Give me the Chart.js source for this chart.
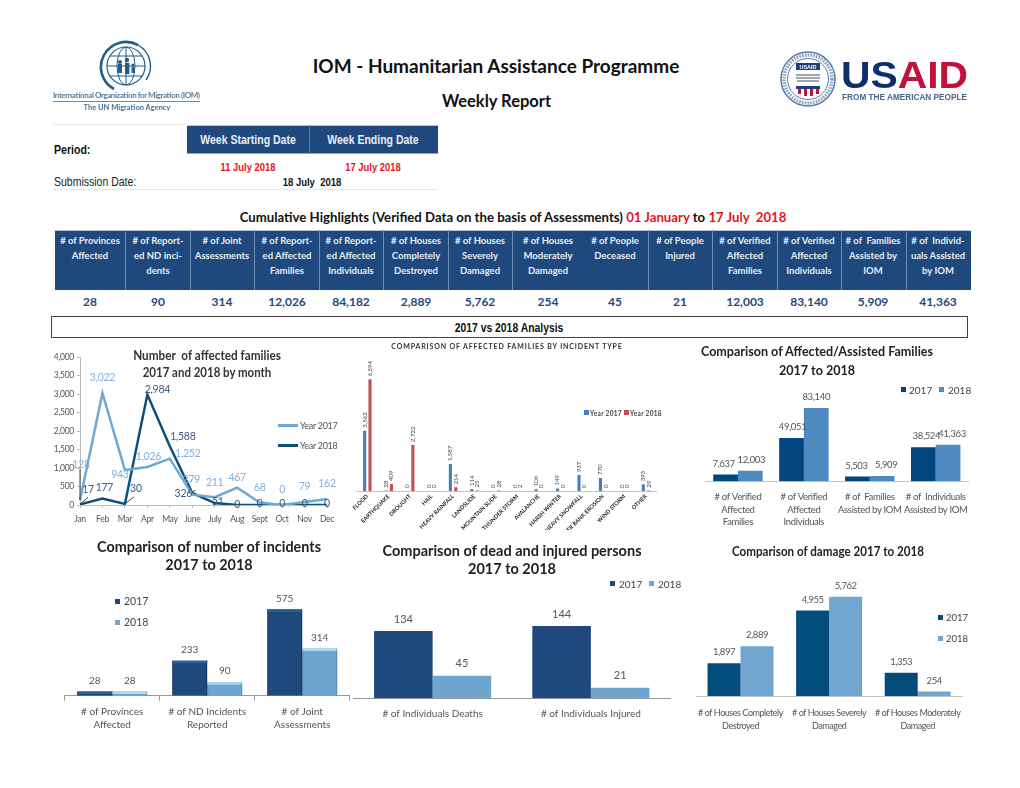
<!DOCTYPE html>
<html>
<head>
<meta charset="utf-8">
<title>IOM - Humanitarian Assistance Programme</title>
<script src="https://cdn.jsdelivr.net/npm/chart.js@4"></script>
<style>
  html, body { margin: 0; padding: 0; background: #fff; }
  #page { position: relative; width: 1020px; height: 788px; overflow: hidden; font-family: Lato, sans-serif; }
  #page canvas { position: absolute; filter: blur(0.5px); }
  #page svg { position: absolute; filter: blur(0.3px); }
  .t { position: absolute; white-space: pre; transform: translate(-50%, -50%); line-height: 1; }
  .l { transform: translate(0, -50%); }
  .box { position: absolute; box-sizing: border-box; }
  .red { color: #e8141c; }
</style>
</head>
<body>
<div id="page">
  <svg style="left:50px;top:40px" width="155" height="76" viewBox="50 40 155 76">
    <g fill="none" stroke="#1f5f8b">
      <path d="M114 89 A24 24 0 1 1 138 45" stroke-width="2.6"/>
      <path d="M138 45 A24 24 0 0 1 146 80" stroke-width="1.4"/>
      <circle cx="126" cy="66" r="19" stroke-width="1.2"/>
      <ellipse cx="126" cy="66" rx="9" ry="19" stroke-width="1"/>
      <path d="M107 66 H145 M110 56 H142 M110 76 H142 M126 47 V85" stroke-width="1"/>
    </g>
    <g fill="#1f5f8b">
      <circle cx="120" cy="62" r="2"/><rect x="118" y="64" width="4" height="9"/>
      <circle cx="127" cy="60" r="2.2"/><rect x="125" y="63" width="4.4" height="11"/>
      <circle cx="133" cy="65" r="1.6"/><rect x="131.5" y="67" width="3" height="6"/>
    </g>
    <text x="53" y="98" font-family="Lato" font-size="8" fill="#5a7f9c" textLength="147" font-weight="700">International Organization for Migration (IOM)</text>
    <rect x="53" y="101" width="147" height="1" fill="#5f8fb5"/>
    <text x="127" y="110" font-family="Lato" font-size="7.5" fill="#4b6f8d" text-anchor="middle" font-weight="700">The UN Migration Agency</text>
  </svg>
  <svg style="left:775px;top:45px" width="200" height="65" viewBox="775 45 200 65">
    <circle cx="808" cy="79" r="27" fill="#fff" stroke="#5d7ca3" stroke-width="1.5"/>
    <circle cx="808" cy="79" r="20.5" fill="#fff" stroke="#5d7ca3" stroke-width="1"/>
    <circle cx="808" cy="79" r="24" fill="none" stroke="#8aa2bf" stroke-width="3.5" stroke-dasharray="1.6 1.2"/>
    <rect x="796" y="63" width="24" height="7" fill="#1f3f78"/>
    <text x="808" y="69" font-family="Liberation Sans" font-weight="700" font-size="5.5" fill="#fff" text-anchor="middle">USAID</text>
    <path d="M796 78 h24 M797 81 h22 M796 75 h24" stroke="#7f8a96" stroke-width="1.6"/>
    <rect x="796" y="86" width="24" height="3" fill="#1f3f78"/>
    <path d="M798 89 h3 v5 h-3z M804 89 h3 v7 h-3z M810 89 h3 v7 h-3z M816 89 h3 v5 h-3z" fill="#c2113a"/>
    <text x="841" y="87.5" font-family="Liberation Sans" font-weight="700" font-size="37" textLength="127" lengthAdjust="spacingAndGlyphs"><tspan fill="#0f2f6b">US</tspan><tspan fill="#c2113a">AID</tspan></text>
    <text x="842" y="99.5" font-family="Liberation Sans" font-weight="700" font-size="9.5" fill="#48668c" textLength="125" lengthAdjust="spacingAndGlyphs">FROM THE AMERICAN PEOPLE</text>
  </svg>
  <canvas id="monthly" style="left:20px;top:340px" width="340" height="190"></canvas>
  <canvas id="incidentType" style="left:350px;top:340px" width="330" height="190"></canvas>
  <canvas id="assisted" style="left:680px;top:340px" width="300" height="190"></canvas>
  <canvas id="incidents" style="left:60px;top:530px" width="300" height="210"></canvas>
  <canvas id="casualties" style="left:350px;top:530px" width="330" height="210"></canvas>
  <canvas id="damage" style="left:680px;top:530px" width="300" height="210"></canvas>
</div>
<script>
// top table
const tableHeads = [
  ['# of Provinces', 'Affected'], ['# of Report-', 'ed ND inci-', 'dents'], ['# of Joint', 'Assessments'],
  ['# of Report-', 'ed Affected', 'Families'], ['# of Report-', 'ed Affected', 'Individuals'],
  ['# of Houses', 'Completely', 'Destroyed'], ['# of Houses', 'Severely', 'Damaged'],
  ['# of Houses', 'Moderately', 'Damaged'], ['# of People', 'Deceased'], ['# of People', 'Injured'],
  ['# of Verified', 'Affected', 'Families'], ['# of Verified', 'Affected', 'Individuals'],
  ['# of  Families', 'Assisted by', 'IOM'], ['# of  Individ-', 'uals Assisted', 'by IOM']
];
const tableValues = ['28', '90', '314', '12,026', '84,182', '2,889', '5,762', '254', '45', '21', '12,003', '83,140', '5,909', '41,363'];
const tableCentres = [90, 158, 222, 287, 351, 416, 480, 548, 615, 680, 745, 809, 873, 938];
const tableDividers = [125, 190, 254, 319, 383, 448, 512, 648, 712, 777, 841, 906];

// line chart
const months = ['Jan', 'Feb', 'Mar', 'Apr', 'May', 'June', 'July', 'Aug', 'Sept', 'Oct', 'Nov', 'Dec'];
const families2017 = [128, 3022, 943, 1026, 1252, 279, 211, 467, 68, 0, 79, 162];
const families2018 = [17, 177, 30, 2984, 1588, 326, 51, 0, 0, 0, 0, 0];

// incident type chart
const incidentTypes = ['FLOOD', 'EARTHQUAKE', 'DROUGHT', 'HAIL', 'HEAVY RAINFALL', 'LANDSLIDE', 'MOUNTAIN SLIDE',
  'THUNDER STORM', 'AVALANCHE', 'HARSH WINTER', 'HEAVY SNOWFALL', 'RIVER BANK EROSION', 'WIND STORM', 'OTHER'];
const type2017 = [3562, 28, 0, 0, 1587, 114, 0, 0, 106, 149, 937, 770, 0, 393];
const type2018 = [6594, 409, 2722, 0, 214, 25, 28, 2, 0, 0, 0, 0, 0, 29];

// affected / assisted
const assistedLabels = [['# of Verified', 'Affected', 'Families'], ['# of Verified', 'Affected', 'Individuals'],
  ['# of  Families', 'Assisted by IOM'], ['# of  Individuals', 'Assisted by IOM']];
const assisted2017 = [7637, 49051, 5503, 38524];
const assisted2018 = [12003, 83140, 5909, 41363];

// incidents
const incidentLabels = [['# of Provinces', 'Affected'], ['# of ND Incidents', 'Reported'], ['# of Joint', 'Assessments']];
const incidents2017 = [28, 233, 575];
const incidents2018 = [28, 90, 314];

// deaths and injured
const casualtyLabels = ['# of Individuals Deaths', '# of Individuals Injured'];
const casualties2017 = [134, 144];
const casualties2018 = [45, 21];

// damage
const damageLabels = [['# of Houses Completely', 'Destroyed'], ['# of Houses Severely', 'Damaged'], ['# of Houses Moderately', 'Damaged']];
const damage2017 = [1897, 4955, 1353];
const damage2018 = [2889, 5762, 254];

const page = document.getElementById('page');
const SANS = 'Lato, sans-serif';
const ARIAL = '"Liberation Sans", Arial, sans-serif';

function put(text, x, y, css, left) {
  const el = document.createElement('div');
  el.className = left ? 't l' : 't';
  el.style.cssText = 'left:' + x + 'px;top:' + y + 'px;' + css;
  el.textContent = text;
  page.appendChild(el);
  return el;
}
function box(x, y, w, h, css) {
  const el = document.createElement('div');
  el.className = 'box';
  el.style.cssText = 'left:' + x + 'px;top:' + y + 'px;width:' + w + 'px;height:' + h + 'px;' + css;
  page.appendChild(el);
}
function swatch(x, y, color) { box(x, y - 2.5, 5, 5, 'background:' + color); }
// no narrow font is installed, so squeeze the text sideways
const sx = k => 'transform:translate(-50%,-50%) scaleX(' + k + ');';
const sxl = k => 'transform-origin:0 50%;transform:translate(0,-50%) scaleX(' + k + ');';

// header
put('IOM - Humanitarian Assistance Programme', 496, 65, 'font:700 19px ' + SANS + ';color:#111');
put('Weekly Report', 496.5, 101, 'font:700 16.5px ' + SANS + ';color:#111');

box(53, 124, 134, 1, 'background:#f1e9dc');
box(187, 125, 251, 29, 'background:#1f497d;border-top:1px solid #b9c4cf;border-bottom:1px solid #8fa3bb');
box(309, 125, 1, 29, 'background:#5f81a8');
put('Week Starting Date', 248, 140, 'font:700 12.5px ' + ARIAL + ';color:#e8eef5;' + sx(.84));
put('Week Ending Date', 373, 140, 'font:700 12.5px ' + ARIAL + ';color:#e8eef5;' + sx(.84));
put('Period:', 54, 149.5, 'font:700 12px ' + ARIAL + ';color:#111;' + sxl(.88), true);
put('11 July 2018', 248, 167, 'font:700 11.5px ' + ARIAL + ';color:#e8141c;' + sx(.82));
put('17 July 2018', 373, 167, 'font:700 11.5px ' + ARIAL + ';color:#e8141c;' + sx(.82));
put('Submission Date:', 54, 182, 'font:400 12.5px ' + ARIAL + ';color:#222;' + sxl(.84), true);
put('18 July  2018', 312, 182, 'font:700 10.5px ' + ARIAL + ';color:#111;' + sx(.9));
box(53, 189, 385, 1, 'background:#ece6d8');

const cumulative = put('', 513, 217, 'font:700 13.2px ' + SANS + ';color:#111');
cumulative.innerHTML = 'Cumulative Highlights (Verified Data on the basis of Assessments) <span class="red">01 January</span> to <span class="red">17 July  2018</span>';

// highlights table, built from the arrays
box(55, 230, 916, 60, 'background:#1f497d;border-top:1px solid #b5c5d6');
tableDividers.forEach(x => box(x, 230, 1, 60, 'background:#6f8fb4'));
tableHeads.forEach((lines, i) => {
  lines.forEach((line, j) => put(line, tableCentres[i], 240 + j * 15, 'font:700 9.5px ' + SANS + ';color:#e6ecf3'));
  put(tableValues[i], tableCentres[i], 301, 'font:700 12px ' + SANS + ';color:#1f497d');
});

box(51, 316, 917, 22, 'border:1px solid #444;background:#fff');
put('2017 vs 2018 Analysis', 509, 327.5, 'font:700 12.5px ' + ARIAL + ';color:#111;' + sx(.83));

// chart headings and legends
const heading = 'font:700 14.4px ' + SANS + ';color:#222;';
put('Number  of affected families', 207, 355, 'font:700 13.5px ' + SANS + ';color:#333;' + sx(.87));
put('2017 and 2018 by month', 207, 372, 'font:700 13.5px ' + SANS + ';color:#333;' + sx(.85));
box(278, 424, 20, 2.5, 'background:#6fa8d4');
box(278, 444, 20, 2.5, 'background:#0b4f7c');
put('Year 2017', 300, 425, 'font:400 9px ' + SANS + ';color:#555;letter-spacing:-.3px', true);
put('Year 2018', 300, 445, 'font:400 9px ' + SANS + ';color:#555;letter-spacing:-.3px', true);

put('COMPARISON OF AFFECTED FAMILIES BY INCIDENT TYPE', 507, 345.5, 'font:700 7px ' + SANS + ';color:#333;letter-spacing:.85px');
swatch(583.5, 412.5, '#4a7ebb');
swatch(624, 412.5, '#c0504d');
put('Year 2017', 590, 412.5, 'font:700 6.5px ' + SANS + ';color:#444;letter-spacing:.3px', true);
put('Year 2018', 630, 412.5, 'font:700 6.5px ' + SANS + ';color:#444;letter-spacing:.3px', true);

put('Comparison of Affected/Assisted Families', 817, 351, heading + 'font-size:13.5px;' + sx(.93));
put('2017 to 2018', 817, 369.5, heading + 'font-size:13.5px;' + sx(.93));
swatch(900.5, 389.5, '#03457f');
swatch(939, 389.5, '#4e8abf');
put('2017', 909, 389.5, 'font:400 10px ' + SANS + ';color:#444', true);
put('2018', 948, 389.5, 'font:400 10px ' + SANS + ';color:#444', true);

put('Comparison of number of incidents', 209, 546, heading);
put('2017 to 2018', 209, 563.5, heading);
swatch(114.5, 601, '#1f497d');
swatch(114.5, 622, '#6ea6cf');
put('2017', 124, 601, 'font:400 10.5px ' + SANS + ';color:#444', true);
put('2018', 124, 622, 'font:400 10.5px ' + SANS + ';color:#444', true);

put('Comparison of dead and injured persons', 512, 550, heading + 'font-size:14.5px');
put('2017 to 2018', 512, 568, heading + 'font-size:14.5px');
swatch(610, 583.5, '#1f497d');
swatch(648.5, 583.5, '#6ea6cf');
put('2017', 619, 583.5, 'font:400 10px ' + SANS + ';color:#444', true);
put('2018', 658, 583.5, 'font:400 10px ' + SANS + ';color:#444', true);

put('Comparison of damage 2017 to 2018', 828, 551, heading + 'font-size:12.5px;' + sx(.93));
swatch(937.5, 617, '#034d7c');
swatch(937.5, 638, '#70a6d0');
put('2017', 946, 617, 'font:400 9.5px ' + SANS + ';color:#444', true);
put('2018', 946, 638, 'font:400 9.5px ' + SANS + ';color:#444', true);

// Calibri in the reference is narrower than Lato, tighten the canvas text per chart
const tightText = {
  id: 'tightText',
  beforeDraw(chart) { chart.ctx.letterSpacing = (chart.options.tight || 0) + 'px'; }
};

// value labels drawn above each point or bar
const valueLabels = {
  id: 'valueLabels',
  afterDatasetsDraw(chart) {
    const ctx = chart.ctx;
    chart.data.datasets.forEach((ds, d) => {
      const o = ds.valueLabel;
      if (!o) return;
      chart.getDatasetMeta(d).data.forEach((el, i) => {
        const text = ds.data[i].toLocaleString('en-US');
        const off = o.offsets ? o.offsets[i] : [0, o.dy];
        ctx.save();
        if (off[2]) {
          ctx.strokeStyle = '#444';
          ctx.lineWidth = 1;
          ctx.beginPath();
          ctx.moveTo(el.x, el.y);
          ctx.lineTo(el.x + off[2][0], el.y + off[2][1]);
          ctx.stroke();
        }
        ctx.translate(el.x + off[0], el.y + off[1]);
        ctx.font = o.font;
        ctx.fillStyle = o.color;
        if (o.rotate) {
          ctx.rotate(-Math.PI / 2);
          ctx.textAlign = 'left';
        } else {
          ctx.textAlign = 'center';
        }
        ctx.textBaseline = 'middle';
        ctx.fillText(text, 0, 0);
        ctx.restore();
      });
    });
  }
};

// light strip along the bar tops for the bevelled chart
const barBevel = {
  id: 'barBevel',
  afterDatasetsDraw(chart) {
    const ctx = chart.ctx;
    chart.data.datasets.forEach((ds, d) => {
      if (!ds.bevel) return;
      chart.getDatasetMeta(d).data.forEach(el => {
        const w = el.width;
        ctx.fillStyle = ds.bevel;
        ctx.fillRect(el.x - w / 2, el.y, w, Math.min(2.5, el.base - el.y));
        ctx.fillStyle = 'rgba(0,0,0,0.18)';
        ctx.fillRect(el.x - w / 2, el.y, 1, el.base - el.y);
        ctx.fillRect(el.x + w / 2 - 1, el.y, 1, el.base - el.y);
      });
    });
  }
};

function barChart(id, labels, datasets, cfg) {
  return new Chart(document.getElementById(id), {
    type: 'bar',
    data: { labels: labels, datasets: datasets },
    plugins: [tightText, valueLabels, barBevel],
    options: {
      responsive: false,
      animation: false,
      events: [],
      tight: cfg.tight || 0,
      layout: { padding: cfg.padding },
      datasets: { bar: { categoryPercentage: cfg.catPct, barPercentage: cfg.barPct || 1 } },
      plugins: { legend: { display: false }, title: { display: false }, tooltip: { enabled: false } },
      scales: {
        x: {
          afterFit(s) { s.height = cfg.axisHeight; },
          border: { color: cfg.axisColor || '#c4c4c4' },
          grid: { display: !!cfg.tickMarks, drawOnChartArea: false, drawTicks: !!cfg.tickMarks, tickLength: 5, color: '#999' },
          ticks: Object.assign({
            autoSkip: false, maxRotation: 0, minRotation: 0, color: '#555',
            font: { family: 'Lato', size: cfg.tickSize || 9.5, lineHeight: cfg.lineHeight || 1.35 }, padding: cfg.tickPad || 6
          }, cfg.ticks || {})
        },
        y: { display: false, min: 0, max: cfg.max }
      }
    }
  });
}

// line chart
new Chart(document.getElementById('monthly'), {
  type: 'line',
  data: {
    labels: months,
    datasets: [
      {
        data: families2017, borderColor: '#6fa8d4', borderWidth: 2.5, pointRadius: 0, tension: 0,
        valueLabel: {
          font: '10.5px Lato', color: '#7fb0e0',
          offsets: [[1, -36, [0, -31]], [0, -16], [-5, 5], [1, -10], [18, -5], [-1, -15], [0, -15], [0, -10], [0, -15], [0, -15], [0, -15], [0, -15]]
        }
      },
      {
        data: families2018, borderColor: '#0b4f7c', borderWidth: 2.5, pointRadius: 0, tension: 0,
        valueLabel: {
          font: '10.5px Lato', color: '#3d5a80',
          offsets: [[8, -15, [8, -7]], [2, -11], [11, -15, [9, -7]], [10, -5], [13, -10], [-9, 1, [3, -3]], [3, -2], [0, 0], [0, -1], [0, -1], [0, -1], [0, -1]]
        }
      }
    ]
  },
  plugins: [tightText, valueLabels],
  options: {
    responsive: false,
    animation: false,
    events: [],
    tight: -0.3,
    layout: { padding: { top: 17, right: 33, left: 0, bottom: 0 } },
    plugins: { legend: { display: false }, tooltip: { enabled: false } },
    scales: {
      x: {
        afterFit(s) { s.height = 25; },
        offset: false,
        border: { color: '#bbb' },
        grid: { drawOnChartArea: false, tickLength: 3, color: '#bbb' },
        ticks: { autoSkip: false, maxRotation: 0, color: '#555', font: { family: 'Lato', size: 8.5 }, padding: 6 }
      },
      y: {
        afterFit(s) { s.width = 60; },
        min: 0, max: 4000,
        border: { color: '#bbb' },
        grid: { drawOnChartArea: false, tickLength: 3, color: '#bbb' },
        ticks: { stepSize: 500, color: '#555', font: { family: 'Lato', size: 8.5 }, padding: 3, callback: v => v.toLocaleString('en-US') }
      }
    }
  }
});

// incident type
barChart('incidentType', incidentTypes, [
  { data: type2017, backgroundColor: '#4a7ebb', valueLabel: { font: '6px Lato', color: '#444', dy: -3, rotate: true } },
  { data: type2018, backgroundColor: '#c0504d', valueLabel: { font: '6px Lato', color: '#444', dy: -3, rotate: true } }
], {
  padding: { left: 6.6, right: 23.3, top: 32.4 }, axisHeight: 39, catPct: 0.5, barPct: 0.58, max: 7000,
  ticks: { maxRotation: 45, minRotation: 45, color: '#222', font: { family: 'Lato', size: 5.6, weight: '700' }, padding: 2 }
});

// affected / assisted
barChart('assisted', assistedLabels, [
  { data: assisted2017, backgroundColor: '#03457f', valueLabel: { font: '9.5px Lato', color: '#555', offsets: [[-2, -11], [1, -11], [-1, -11], [3, -11]] } },
  { data: assisted2018, backgroundColor: '#4e8abf', valueLabel: { font: '9.5px Lato', color: '#555', offsets: [[1, -11], [0, -11], [4, -11], [4, -11]] } }
], { padding: { left: 25, right: 7, top: 53 }, axisHeight: 48.7, catPct: 0.75, max: 100000, tickSize: 9.5, tickPad: 9, tight: -0.35 });

// incidents
barChart('incidents', incidentLabels, [
  { data: incidents2017, backgroundColor: '#1f497d', bevel: '#2f6099', valueLabel: { font: '10px Lato', color: '#555', dy: -11 } },
  { data: incidents2018, backgroundColor: '#6ea6cf', bevel: '#a9dcf2', valueLabel: { font: '10px Lato', color: '#555', dy: -11 } }
], { padding: { left: 4.7, right: 10.3, top: 50 }, axisHeight: 44.3, catPct: 0.737, max: 770, tickMarks: true, axisColor: '#999', tickPad: 4, tickSize: 10 });

// deaths and injured
barChart('casualties', casualtyLabels, [
  { data: casualties2017, backgroundColor: '#1f497d', valueLabel: { font: '11px Lato', color: '#555', dy: -12 } },
  { data: casualties2018, backgroundColor: '#6ea6cf', valueLabel: { font: '11px Lato', color: '#555', dy: -12 } }
], { padding: { left: 3.5, right: 10, top: 68 }, axisHeight: 41.7, catPct: 0.74, max: 200, axisColor: '#999', tickPad: 9, tickSize: 10 });

// damage
barChart('damage', damageLabels, [
  { data: damage2017, backgroundColor: '#034d7c', valueLabel: { font: '9.5px Lato', color: '#555', dy: -11 } },
  { data: damage2018, backgroundColor: '#70a6d0', valueLabel: { font: '9.5px Lato', color: '#555', dy: -11 } }
], { padding: { left: 16, right: 18, top: 52 }, axisHeight: 44, catPct: 0.745, max: 6613, tickPad: 10.5, tickSize: 9, lineHeight: 1.45, tight: -0.45 });
</script>
</body>
</html>
